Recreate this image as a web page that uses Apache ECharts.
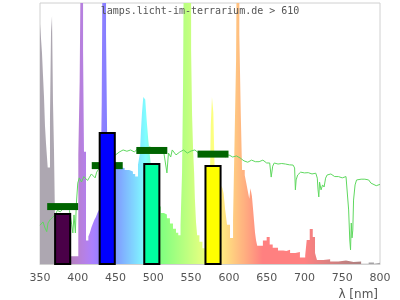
<!DOCTYPE html>
<html><head><meta charset="utf-8">
<script src="https://cdn.jsdelivr.net/npm/echarts@6/dist/echarts.min.js"></script>
<style>html,body{margin:0;padding:0;background:#fff}#c{width:400px;height:300px}</style>
</head><body><div id="c"></div>
<script>
// ---- data ----
const xTicks = [350, 400, 450, 500, 550, 600, 650, 700, 750, 800];
// lamp spectrum: [wavelength nm (step start), relative value]
const specNm = [350,352.6,354,355.3,356.6,358,360.2,363.2,364.6,365.9,367.2,368.5,370,375,380,385,390,400.7,402.5,404.3,407,408.2,410.9,414,416,418,420,422,424,426,428,430,431.7,433,437.4,439,442,446,450,456,462,468,473,476,479.7,482.3,483.6,485,486.7,489.3,491.2,493.3,495.6,498,502,506,510,514,518,522,526,530,533,536,538,539.3,540.6,550,551.3,552.6,554,555,556.5,558,561,565,568,570,574,576,577.6,579.4,581.6,585,590,591.5,593,595,597.5,601.5,605.5,608,609.5,610.7,613.8,615.7,617.4,621,623,625,627,628.5,630.5,632,634.6,636,637.5,645,650,654,658,665,672,676,681,688,694,701,703,707,711,714,716.6,725,734,745,755,765,775,785,792,800];
const specVal = [92,81,72,64,53,46,37,56,89,95,62,44,14,10,7,5,3,42,70,130,82,43,9,10.5,12,14,15.5,17,18,19.5,20.7,23,62,130,88,45,40,38,37,36.8,36,35.4,34.5,33.5,38,42.5,51,58,64,63,55,47.5,41,34,28,22,19.5,19,17.5,15.5,13.5,12,11,15,35,67,130,82,57,44,35,25,16,11,8.5,6,5,7,14,53,64,58,30,25,30,29,27,21,15,10,17,55,78,130,88,58,36,34,31,28,25,29,26,21,12,9,7,9,10.3,7.5,6.2,5.2,5,5.5,4.2,4.6,2.5,3.4,9.2,13.4,10.3,4.2,1.5,1.8,1,1.3,0.8,1,-0.5,0.6,-1,0.5];
// sunlight reference line
const sunNm = [350,352,354,356.6,358.9,360.6,363.2,367,370,373,377,381,385,389,392,393.5,395,396.8,398,400,402,405,408,410,413,415,418,420,423,425,428,430,435,440,445,450,455,460,465,470,475,480,485,490,495,500,505,510,514,516,518,520,523,525,530,535,540,545,550,555,560,565,570,575,580,585,590,595,600,605,610,615,620,625,630,635,640,645,650,654,656,658,660,665,670,675,680,685,687,688,689,691,695,700,705,710,715,717,718,719,720,722,724,726,728,730,735,740,745,750,755,757,758.5,760,761,762,763,764,765,767,769,775,780,785,788,790,795,800];
const sunVal = [14.9,14.3,16.1,13.8,12.4,15.7,16.9,18,18.8,20.5,20,21.5,22,20.5,15,11.9,18.8,11.9,22.6,31,33,31.4,33.5,33.7,32,33,34.5,34.1,33,35.2,36.5,37.9,38.5,40,41,41.8,42.9,43.7,43.2,43.7,42.9,44.4,43.3,43.7,44.8,44.4,43.5,43.7,42.5,42.9,34.9,42.5,41,43.7,41.8,42.9,43.7,42.5,43.3,43.7,42.5,41.5,41.8,42,42.1,41.5,42.5,41,41.8,41,41.4,40.6,39.5,39,39.8,39.2,39.2,39.8,38.7,38.7,33.3,37.5,38.7,38.3,38.5,38.3,38,37.9,36.8,28.4,32.2,34.1,35.2,34.9,35,34.5,34.8,32.9,28.4,25.7,31.4,28.4,30.3,29.5,32.9,34.1,34.5,33.5,33.5,33,33.5,33.2,20.7,9.2,5.4,15.7,10,13,24.5,30.3,32.2,32.5,32.5,32.2,31,30.5,30,30.5];
// band bars (lamp) and markers (sun)
const bandCenter = [380, 439, 498, 579];
const bandLamp = [19.5, 50.6, 38.7, 37.9];
const bandSun = [22.0, 37.7, 43.5, 42.1];
const bandColors = ['#4a0048', '#0000ff', '#00ffa0', '#ffff00'];

// ---- colours for the spectrum fill (wavelength -> pastel colour) ----
function specColor(wl) {
  if (wl < 380) return 'rgb(173,167,177)';
  if (wl > 780) return 'rgb(165,163,165)';
  let r = 0, g = 0, b = 0;
  if (wl < 440) { r = -(wl - 440) / 60; b = 1; }
  else if (wl < 490) { g = (wl - 440) / 50; b = 1; }
  else if (wl < 510) { g = 1; b = -(wl - 510) / 20; }
  else if (wl < 580) { r = (wl - 510) / 70; g = 1; }
  else if (wl < 645) { r = 1; g = -(wl - 645) / 65; }
  else { r = 1; }
  let f = 1;
  if (wl < 420) f = 0.3 + 0.7 * (wl - 380) / 40;
  else if (wl > 700) f = 0.3 + 0.7 * (780 - wl) / 80;
  const c = v => Math.round(255 * (0.5 + 0.5 * v * f));
  return 'rgb(' + c(r) + ',' + c(g) + ',' + c(b) + ')';
}
const stops = [];
for (let w = 350; w <= 800; w += 1) stops.push({ offset: (w - 350) / 450, color: specColor(w) });

const chart = echarts.init(document.getElementById('c'), null, { renderer: 'canvas' });
chart.setOption({
  animation: false,
  title: [
    { text: 'lamps.licht-im-terrarium.de > 610', left: 'center', top: 6, padding: 0,
      textStyle: { fontFamily: 'DejaVu Sans Mono', fontSize: 10, fontWeight: 'normal', color: '#555' } },
    { text: 'λ [nm]', right: 22, top: 289, padding: 0,
      textStyle: { fontFamily: 'DejaVu Sans', fontSize: 12, fontWeight: 'normal', color: '#555' } }
  ],
  grid: { left: 40, right: 20, top: 3, bottom: 36, show: true, borderColor: '#d0d0d0', borderWidth: 1, backgroundColor: 'transparent' },
  xAxis: {
    type: 'value', min: xTicks[0], max: xTicks[xTicks.length - 1], interval: 50,
    axisLine: { show: true, lineStyle: { color: '#d0d0d0' } },
    axisTick: { show: false }, splitLine: { show: false },
    axisLabel: { fontFamily: 'DejaVu Sans', fontSize: 11, color: '#555', margin: 9 }
  },
  yAxis: { type: 'value', min: 0, max: 100, show: false, splitLine: { show: false } },
  series: [
    { type: 'line', z: 1, step: 'end', showSymbol: false, silent: true,
      data: specNm.map((w, i) => [w, specVal[i]]),
      lineStyle: { width: 0, opacity: 0 },
      areaStyle: { opacity: 1, origin: 'start', color: new echarts.graphic.LinearGradient(0, 0, 1, 0, stops) } },
    { type: 'line', z: 2, showSymbol: false, silent: true,
      data: sunNm.map((w, i) => [w, sunVal[i]]),
      lineStyle: { width: 1, color: '#5fd85f' } },
    { type: 'custom', z: 3,
      data: bandCenter.map((c, i) => [c, bandSun[i]]),
      renderItem: function (params, api) {
        const a = api.coord([api.value(0) - 20.5, api.value(1)]);
        const b = api.coord([api.value(0) + 20.5, api.value(1)]);
        return { type: 'rect', shape: { x: a[0], y: a[1] - 3.5, width: b[0] - a[0], height: 7 }, style: { fill: '#006400' } };
      } },
    { type: 'custom', z: 4,
      data: bandCenter.map((c, i) => [c, bandLamp[i]]),
      renderItem: function (params, api) {
        const a = api.coord([api.value(0) - 10, api.value(1)]);
        const b = api.coord([api.value(0) + 10, 0]);
        return { type: 'rect', shape: { x: a[0], y: a[1] + 1, width: b[0] - a[0], height: b[1] - a[1] - 1 },
          style: { fill: bandColors[params.dataIndex], stroke: '#000', lineWidth: 2 } };
      } }
  ]
});
</script></body></html>
